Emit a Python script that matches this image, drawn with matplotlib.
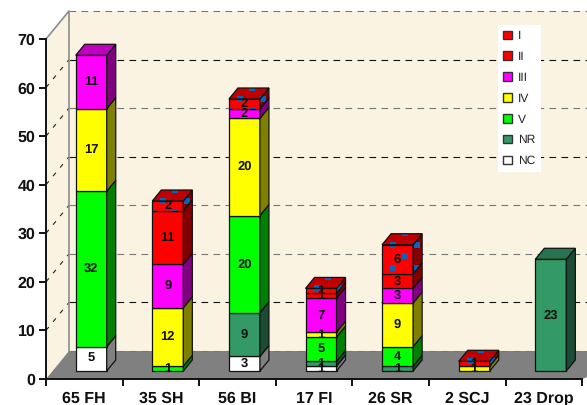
import numpy as np
import matplotlib
matplotlib.use('Agg')
import matplotlib.pyplot as plt
from matplotlib.patches import Patch, Polygon

plt.rcParams['font.family'] = ['Liberation Sans', 'DejaVu Sans']
plt.rcParams['text.hinting'] = 'no_hinting'
plt.rcParams['text.hinting_factor'] = 1

categories = ['65 FH', '35 SH', '56 BI', '17 FI', '26 SR', '2 SCJ', '23 Drop']
series = ['NC', 'NR', 'V', 'IV', 'III', 'II', 'I']
NC = [5, 0, 3, 1, 0, 0, 0]
NR = [0, 0, 9, 1, 1, 0, 23]
V = [32, 1, 20, 5, 4, 0, 0]
IV = [17, 12, 20, 1, 9, 1, 0]
III = [11, 9, 2, 7, 3, 0, 0]
II = [0, 11, 0, 1, 3, 0, 0]
I = [0, 2, 2, 1, 6, 1, 0]
values = [NC, NR, V, IV, III, II, I]

# front, side, top
colors = {'NC': ('#FFFFFF', '#808080', '#C0C0C0'),
          'NR': ('#339966', '#1A4D33', '#267350'),
          'V': ('#00FF00', '#008000', '#00C000'),
          'IV': ('#FFFF00', '#808000', '#C0C000'),
          'III': ('#FF00FF', '#800080', '#C000C0'),
          'II': ('#FF0000', '#800000', '#C00000'),
          'I': ('#FF0000', '#800000', '#C00000')}

W, H = 587, 405
PX_X = (582.2 - 46) / 7     # pixels per category
PX_Y = (379 - 39) / 70      # pixels per unit
WALL_X = 23 / PX_X          # depth of the box in data units
WALL_Y = 28 / PX_Y
BAR_W = 31 / PX_X
BAR_DEPTH = 11 / 28         # of the box depth
BAR_FRONT = 8 / 28
EDGE = '#111111'

fig = plt.figure(figsize=(W / 100, H / 100), dpi=100, facecolor='white')
ax = fig.add_axes([46 / W, (H - 379) / H, (582.2 - 46) / W, (379 - 39) / H])
ax.set_xlim(0, 7)
ax.set_ylim(0, 70)
ax.patch.set_visible(False)


def prism_faces(x0, y0, y1, d0=BAR_FRONT, d1=BAR_FRONT + BAR_DEPTH):
    fx, fy = d0 * WALL_X, d0 * WALL_Y
    bx, by = d1 * WALL_X, d1 * WALL_Y
    x1 = x0 + BAR_W
    front = [(x0 + fx, y0 + fy), (x1 + fx, y0 + fy), (x1 + fx, y1 + fy), (x0 + fx, y1 + fy)]
    side = [(x1 + fx, y0 + fy), (x1 + bx, y0 + by), (x1 + bx, y1 + by), (x1 + fx, y1 + fy)]
    top = [(x0 + fx, y1 + fy), (x1 + fx, y1 + fy), (x1 + bx, y1 + by), (x0 + bx, y1 + by)]
    return front, side, top


def add_specks(poly, left, top):
    # blue pattern of series I, a diamond lattice anchored on the bar
    step_x, step_y = 23.5 / PX_X, 23 / PX_Y
    xs, ys = [], []
    for j in range(-3, 4):
        for i in range(-1, 4):
            xs += [left + 11 / PX_X + i * step_x, left + 11 / PX_X + (i - 0.5) * step_x]
            ys += [top + j * step_y, top + (j - 0.5) * step_y]
    pts = ax.scatter(xs, ys, s=14, marker='s', color='#0F62B4', linewidths=0, zorder=3, clip_on=True)
    pts.set_clip_path(poly)


# walls and floor
wall = '#FBF3E2'
ax.add_patch(Polygon([(0, 0), (WALL_X, WALL_Y), (WALL_X, 70 + WALL_Y), (0, 70)], fc=wall, ec='none', clip_on=False, zorder=1))
ax.add_patch(Polygon([(WALL_X, WALL_Y), (7.2, WALL_Y), (7.2, 70 + WALL_Y), (WALL_X, 70 + WALL_Y)], fc=wall, ec='none', clip_on=False, zorder=1))
ax.add_patch(Polygon([(0, 0), (WALL_X, WALL_Y), (7.2, WALL_Y), (7.2, 1.2), (7, 0)], fc='#808080', ec='none', clip_on=False, zorder=1))

black_rows = [10, 40, 60]
for v in range(10, 80, 10):
    c = '#111111' if v in black_rows else '#777777'
    ax.plot([WALL_X, 7.2], [v + WALL_Y, v + WALL_Y], color=c, lw=0.8, dashes=(6, 4.8), clip_on=False, zorder=1.2)
    if v < 70:
        ax.plot([0, WALL_X], [v, v + WALL_Y], color='#222222', lw=0.8, dashes=(4, 6), clip_on=False, zorder=1.2)
ax.plot([WALL_X, 7.2], [WALL_Y, WALL_Y], color='#777777', lw=0.8, dashes=(6, 4.8), clip_on=False, zorder=1.3)
ax.plot([0, WALL_X, WALL_X], [70, 70 + WALL_Y, WALL_Y], color='#8C8C8C', lw=1.2, clip_on=False, zorder=1.3)

# stacked bars
bar_off = 29.7 / PX_X - BAR_FRONT * WALL_X
for c in range(len(categories)):
    x0 = c + bar_off
    base = 0
    stack = [(s, values[k][c]) for k, s in enumerate(series) if values[k][c] > 0]
    for n, (name, v) in enumerate(stack):
        front, side, top = prism_faces(x0, base, base + v)
        cf, cs, ct = colors[name]
        faces = [(front, cf), (side, cs)]
        if n == len(stack) - 1:
            faces.append((top, ct))
        for pts, col in faces:
            poly = Polygon(pts, fc=col, ec='none', zorder=3, clip_on=False)
            ax.add_patch(poly)
            if name == 'I':
                add_specks(poly, x0 + BAR_FRONT * WALL_X, base + v + BAR_FRONT * WALL_Y)
            ax.add_patch(Polygon(pts, fc='none', ec=EDGE, lw=0.9, zorder=3, clip_on=False))
        base += v
    base = 0
    for name, v in stack:
        ax.text(x0 + BAR_FRONT * WALL_X + BAR_W / 2, base + v / 2 + BAR_FRONT * WALL_Y, str(v),
                ha='center', va='center', fontsize=9, fontweight='bold', color='#111111', zorder=6)
        base += v

# axes
for s in ['top', 'right']:
    ax.spines[s].set_visible(False)
for s in ['left', 'bottom']:
    ax.spines[s].set_linewidth(1.4)
    ax.spines[s].set_color('#111111')
ax.set_yticks(range(0, 80, 10))
ax.tick_params(axis='y', length=5, width=1.4, pad=2.5, labelsize=11.2, color='#111111')
ax.set_xticks(range(0, 8))
ax.set_xticklabels([])
ax.tick_params(axis='x', which='major', length=5, width=1.4, color='#111111')
ax.set_xticks(np.arange(len(categories)) + 0.5, minor=True)
ax.set_xticklabels(categories, minor=True)
ax.tick_params(axis='x', which='minor', length=0, pad=8.8, labelsize=11.2)
for t in ax.get_xticklabels(minor=True) + ax.get_yticklabels():
    t.set_fontweight('bold')
    t.set_color('#111111')

# legend, top series first
handles = [Patch(fc=colors[s][0], ec='#333333', lw=1.0, label=s) for s in reversed(series)]
leg = ax.legend(handles=handles, loc='upper left', bbox_to_anchor=(498 / W, 1 - 25 / H),
                bbox_transform=fig.transFigure, prop={'size': 8.7}, labelspacing=0.8,
                handlelength=0.72, handleheight=0.72, handletextpad=0.5, borderpad=0.45,
                borderaxespad=0, fancybox=False, framealpha=1, facecolor='white', edgecolor='none')
leg.set_zorder(7)
for t in leg.get_texts():
    t.set_color('#222222')

fig.savefig('out.png', dpi=100)
